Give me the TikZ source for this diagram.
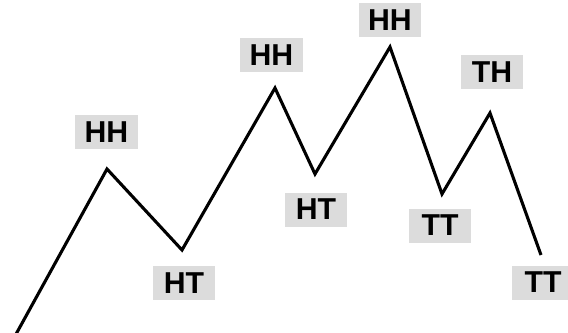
\documentclass[tikz,border=0pt]{standalone}
\usepackage{fontspec}
\setmainfont{Liberation Sans}
\usepackage{tikz}
\usetikzlibrary{positioning}
\definecolor{labelbg}{HTML}{DCDCDC}
\tikzset{
    pair label/.style={
        rectangle, fill=labelbg, inner sep=0pt,
        minimum width=1.55cm, minimum height=0.85cm,
        font=\fontsize{21.5}{25}\selectfont\bfseries
    },
    walk/.style={line width=2.2pt, line join=miter, black}
}
\begin{document}
\begin{tikzpicture}[x=0.025cm, y=-0.025cm]
    \useasboundingbox (0,0) rectangle (568,332);

    % turning points of the walk
    \coordinate (s0) at (15,336);
    \coordinate (p1) at (107,169);
    \coordinate (p2) at (182,250);
    \coordinate (p3) at (275,88);
    \coordinate (p4) at (315,174);
    \coordinate (p5) at (390,47);
    \coordinate (p6) at (442,194);
    \coordinate (p7) at (490,113);
    \coordinate (p8) at (541,255);

    \draw[walk] (s0) -- (p1) -- (p2) -- (p3) -- (p4) -- (p5) -- (p6) -- (p7) -- (p8);

    % labels
    \node[pair label] (l1) at (106.5,132) {HH};
    \node[pair label] (l2) at (184,283) {HT};
    \node[pair label] (l3) at (271.5,55) {HH};
    \node[pair label] (l4) at (316,209.5) {HT};
    \node[pair label] (l5) at (390,20) {HH};
    \node[pair label] (l6) at (492,72) {TH};
    \node[pair label] (l7) at (440,225.5) {TT};
    \node[pair label] (l8) at (543,282.5) {TT};
\end{tikzpicture}
\end{document}
